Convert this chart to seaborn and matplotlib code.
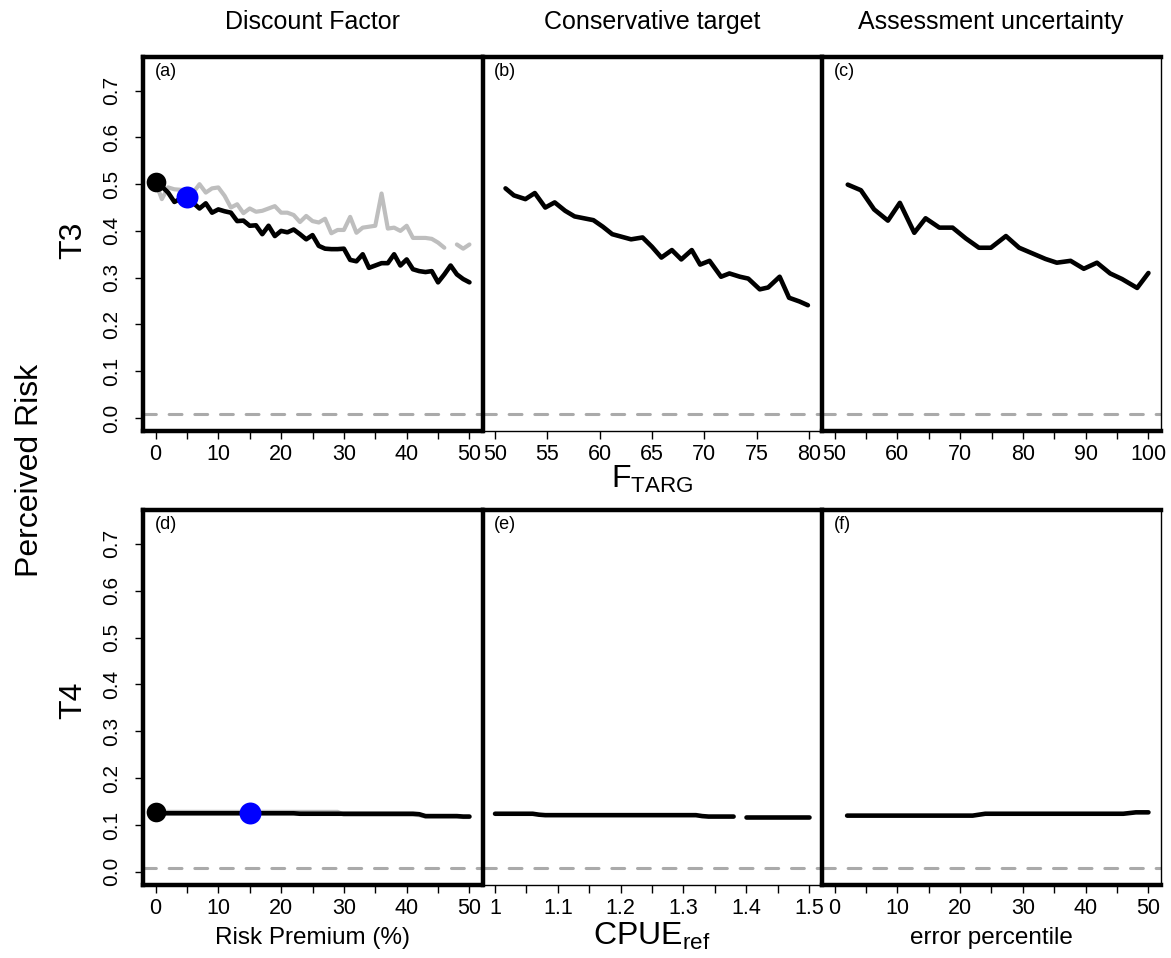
import numpy as np
import pandas as pd
import matplotlib
matplotlib.use("Agg")
import matplotlib.pyplot as plt
import seaborn as sns

sns.set_style("white")
plt.rcParams['font.family'] = ['Liberation Sans', 'DejaVu Sans']
plt.rcParams['mathtext.fontset'] = 'custom'
plt.rcParams['mathtext.rm'] = 'Liberation Sans'
plt.rcParams['mathtext.it'] = 'Liberation Sans'
plt.rcParams['lines.solid_capstyle'] = 'round'
plt.rcParams['lines.solid_joinstyle'] = 'round'
for key in ['text.color', 'axes.labelcolor', 'xtick.color', 'ytick.color', 'axes.edgecolor']:
    plt.rcParams[key] = 'black'

# ---- data -------------------------------------------------------------
risk_premium = np.arange(0, 51)
t3_discount = [0.504, 0.495, 0.482, 0.462, 0.469, 0.473, 0.460, 0.448, 0.459, 0.439,
               0.446, 0.442, 0.439, 0.421, 0.422, 0.411, 0.412, 0.393, 0.411, 0.389,
               0.400, 0.397, 0.403, 0.393, 0.382, 0.391, 0.368, 0.362, 0.361, 0.361,
               0.362, 0.338, 0.335, 0.350, 0.321, 0.326, 0.331, 0.331, 0.350, 0.326,
               0.339, 0.318, 0.314, 0.312, 0.314, 0.290, 0.307, 0.326, 0.307, 0.297,
               0.290]
t3_discount_alt = [0.504, 0.468, 0.493, 0.489, 0.488, 0.486, 0.482, 0.500, 0.482, 0.491,
                   0.493, 0.475, 0.450, 0.457, 0.438, 0.448, 0.441, 0.443, 0.448, 0.453,
                   0.439, 0.439, 0.434, 0.419, 0.432, 0.421, 0.418, 0.426, 0.395, 0.402,
                   0.402, 0.430, 0.396, 0.407, 0.409, 0.411, 0.480, 0.405, 0.407, 0.400,
                   0.411, 0.385, 0.385, 0.385, 0.383, 0.375, 0.364, np.nan, 0.371, 0.362,
                   0.371]
t4_discount = [0.125, 0.125, 0.125, 0.125, 0.125, 0.125, 0.125, 0.125, 0.125, 0.125,
               0.125, 0.125, 0.125, 0.125, 0.125, 0.125, 0.125, 0.125, 0.125, 0.125,
               0.125, 0.125, 0.125, 0.124, 0.124, 0.124, 0.124, 0.124, 0.124, 0.124,
               0.124, 0.124, 0.124, 0.124, 0.124, 0.124, 0.124, 0.124, 0.124, 0.124,
               0.124, 0.124, 0.123, 0.119, 0.119, 0.119, 0.119, 0.119, 0.119, 0.118,
               0.118]
t4_discount_alt = [0.128, 0.128, 0.128, 0.128, 0.128, 0.128, 0.128, 0.128, 0.128, 0.128,
                   0.128, 0.128, 0.128, 0.128, 0.128, 0.128, 0.128, 0.128, 0.128, 0.128,
                   0.128, 0.128, 0.128, 0.128, 0.128, 0.128, 0.128, 0.128, 0.128, 0.128,
                   0.122, 0.122, 0.122, 0.122, 0.122, 0.122, 0.122, 0.122, 0.122, 0.122,
                   0.122, 0.122, 0.121, 0.118, 0.118, 0.118, 0.118, 0.118, 0.118, 0.117,
                   0.117]
base_point = (0, 0.504)
t3_chosen = (5, 0.473)
t4_base = (0, 0.128)
t4_chosen = (15, 0.125)

ftarg = [51.0, 51.8, 52.9, 53.8, 54.8, 55.7, 56.7, 57.6, 59.4, 60.3,
         61.2, 63.0, 64.1, 65.0, 65.9, 66.9, 67.8, 68.8, 69.6, 70.5,
         71.6, 72.4, 73.4, 74.2, 75.3, 76.1, 77.2, 78.1, 79.1, 79.9]
t3_ftarg = [0.491, 0.476, 0.468, 0.481, 0.450, 0.461, 0.443, 0.431, 0.423, 0.409,
            0.393, 0.382, 0.386, 0.366, 0.343, 0.359, 0.339, 0.359, 0.328, 0.336,
            0.302, 0.309, 0.302, 0.298, 0.275, 0.279, 0.302, 0.257, 0.249, 0.241]

cpue_ref = [1.00, 1.01, 1.02, 1.03, 1.04, 1.05, 1.06, 1.07, 1.08, 1.09,
            1.10, 1.11, 1.12, 1.13, 1.14, 1.15, 1.16, 1.17, 1.18, 1.19,
            1.20, 1.21, 1.22, 1.23, 1.24, 1.25, 1.26, 1.27, 1.28, 1.29,
            1.30, 1.31, 1.32, 1.33, 1.34, 1.35, 1.36, 1.37, 1.38, 1.39,
            1.40, 1.41, 1.42, 1.43, 1.44, 1.45, 1.46, 1.47, 1.48, 1.49,
            1.50]
t4_cpue = [0.124, 0.124, 0.124, 0.124, 0.124, 0.124, 0.124, 0.122, 0.121, 0.121,
           0.121, 0.121, 0.121, 0.121, 0.121, 0.121, 0.121, 0.121, 0.121, 0.121,
           0.121, 0.121, 0.121, 0.121, 0.121, 0.121, 0.121, 0.121, 0.121, 0.121,
           0.121, 0.121, 0.121, 0.119, 0.118, 0.118, 0.118, 0.118, 0.118, np.nan,
           0.117, 0.117, 0.117, 0.117, 0.117, 0.117, 0.117, 0.117, 0.117, 0.117,
           0.117]

err_pct_t3 = [52.1, 54.2, 56.3, 58.5, 60.4, 62.7, 64.5, 66.7, 68.8, 70.9,
              73.0, 74.9, 77.3, 79.4, 81.5, 83.6, 85.4, 87.6, 89.7, 91.8,
              93.9, 95.8, 98.2, 100.0]
t3_err = [0.499, 0.487, 0.446, 0.422, 0.460, 0.396, 0.427, 0.407, 0.407, 0.384,
          0.364, 0.364, 0.389, 0.364, 0.352, 0.340, 0.332, 0.336, 0.319, 0.332,
          0.309, 0.297, 0.278, 0.310]

err_pct_t4 = [2, 4, 6, 8, 10, 12, 14, 16, 18, 20, 22, 24, 26,
              28, 30, 32, 34, 36, 38, 40, 42, 44, 46, 48, 50]
t4_err = [0.120, 0.120, 0.120, 0.120, 0.120, 0.120, 0.120, 0.120, 0.120, 0.120,
          0.120, 0.124, 0.124, 0.124, 0.124, 0.124, 0.124, 0.124, 0.124, 0.124,
          0.124, 0.124, 0.124, 0.127, 0.127]

reference_risk = 0.008

col_titles = ["Discount Factor", "Conservative target", "Assessment uncertainty"]
row_labels = ["T3", "T4"]
panel_tags = ["(a)", "(b)", "(c)", "(d)", "(e)", "(f)"]
y_ticks = [0.0, 0.1, 0.2, 0.3, 0.4, 0.5, 0.6, 0.7]
y_ticklabels = ["0.0", "0.1", "0.2", "0.3", "0.4", "0.5", "0.6", "0.7"]

BLACK = "#000000"
GREY = "#BEBEBE"
DASH = "#AAAAAA"
BLUE = "#0000FF"


def draw_line(ax, x, y, color, lw):
    df = pd.DataFrame({"x": x, "y": y})
    df["seg"] = df["y"].isna().cumsum()
    df = df.dropna()
    sns.lineplot(data=df, x="x", y="y", units="seg", estimator=None, sort=False,
                 color=color, linewidth=lw, ax=ax, legend=False)


def draw_point(ax, pt, color, size):
    sns.scatterplot(x=[pt[0]], y=[pt[1]], color=color, s=size, ax=ax,
                    edgecolor=color, linewidth=0, zorder=5, legend=False)


fig = plt.figure(figsize=(11.71, 9.58), dpi=100)
W, H = 1171.0, 958.0
col_left = [143, 482.5, 822]
col_w = 339
rows = [(57, 431), (510, 885)]

axes = {}
for r, (top, bot) in enumerate(rows):
    for c in range(3):
        ax = fig.add_axes([col_left[c] / W, 1 - bot / H, col_w / W, (bot - top) / H])
        axes[(r, c)] = ax

xlims = [(-2, 52), (48.8, 81.2), (48, 102)]
xlims_bot = [(-2, 52), (0.98, 1.52), (-2, 52)]

for (r, c), ax in axes.items():
    ax.set_ylim(-0.028, 0.772)
    ax.set_xlim(*(xlims[c] if r == 0 else xlims_bot[c]))
    ax.axhline(reference_risk, color=DASH, lw=2.2, dashes=(4.2, 4.2),
               dash_capstyle="round", zorder=1)

# top row
draw_line(axes[(0, 0)], risk_premium, t3_discount_alt, GREY, 3.0)
draw_line(axes[(0, 0)], risk_premium, t3_discount, BLACK, 3.3)
draw_point(axes[(0, 0)], base_point, BLACK, 200)
draw_point(axes[(0, 0)], t3_chosen, BLUE, 250)
draw_line(axes[(0, 1)], ftarg, t3_ftarg, BLACK, 3.3)
draw_line(axes[(0, 2)], err_pct_t3, t3_err, BLACK, 3.3)

# bottom row
draw_line(axes[(1, 0)], risk_premium, t4_discount_alt, GREY, 3.0)
draw_line(axes[(1, 0)], risk_premium, t4_discount, BLACK, 3.3)
draw_point(axes[(1, 0)], t4_base, BLACK, 200)
draw_point(axes[(1, 0)], t4_chosen, BLUE, 250)
draw_line(axes[(1, 1)], cpue_ref, t4_cpue, BLACK, 3.3)
draw_line(axes[(1, 2)], err_pct_t4, t4_err, BLACK, 3.3)

# ticks and frames
pct_major = [0, 10, 20, 30, 40, 50]
pct_minor = [5, 15, 25, 35, 45]
for (r, c), ax in axes.items():
    ax.set_xlabel("")
    ax.set_ylabel("")
    if c == 0 or (r == 1 and c == 2):
        ax.set_xticks(pct_major)
        ax.set_xticklabels([str(v) for v in pct_major])
        ax.set_xticks(pct_minor, minor=True)
    elif r == 0 and c == 1:
        ax.set_xticks([50, 55, 60, 65, 70, 75, 80])
        ax.set_xticklabels(["50", "55", "60", "65", "70", "75", "80"])
    elif r == 0 and c == 2:
        ax.set_xticks([50, 60, 70, 80, 90, 100])
        ax.set_xticklabels(["50", "60", "70", "80", "90", "100"])
        ax.set_xticks([55, 65, 75, 85, 95], minor=True)
    else:
        ax.set_xticks([1.0, 1.1, 1.2, 1.3, 1.4, 1.5])
        ax.set_xticklabels(["1", "1.1", "1.2", "1.3", "1.4", "1.5"])
        ax.set_xticks([1.05, 1.15, 1.25, 1.35, 1.45], minor=True)
    ax.tick_params(axis="x", which="both", direction="out", length=5.5, width=1,
                   color=BLACK, bottom=True, labelsize=15.5, pad=4)
    if c == 0:
        ax.set_yticks(y_ticks)
        ax.set_yticklabels(y_ticklabels, rotation=90, va="center")
        ax.tick_params(axis="y", direction="out", length=5.5, width=1, color=BLACK,
                       left=True, labelsize=15, pad=10)
    else:
        ax.set_yticks([])
    for side in ["top", "bottom", "left", "right"]:
        ax.spines[side].set_visible(True)
        ax.spines[side].set_color(BLACK)
        ax.spines[side].set_linewidth(1.0)
    ax.spines["left"].set_linewidth(3.2)
    ax.spines["top"].set_linewidth(3.2)
    if c != 1:
        ax.spines["bottom"].set_linewidth(3.2)
    ax.text(0.035, 0.985, panel_tags[r * 3 + c], transform=ax.transAxes,
            ha="left", va="top", fontsize=13)

# column titles and axis labels
col_centers = [312.5, 652, 991]
for c, t in enumerate(col_titles):
    fig.text(col_centers[c] / W, 1 - 22 / H, t, ha="center", va="center", fontsize=18)

fig.text(652 / W, 1 - 479 / H, r"$\mathrm{F_{TARG}}$", ha="center", va="center", fontsize=23)
fig.text(652 / W, 1 - 936 / H, r"$\mathrm{CPUE_{ref}}$", ha="center", va="center", fontsize=23)
fig.text(312.5 / W, 1 - 938 / H, "Risk Premium (%)", ha="center", va="center", fontsize=17.5)
fig.text(991 / W, 1 - 938 / H, "error percentile", ha="center", va="center", fontsize=17.5)

fig.text(73 / W, 1 - 240 / H, row_labels[0], rotation=90, ha="center", va="center", fontsize=23)
fig.text(73 / W, 1 - 700 / H, row_labels[1], rotation=90, ha="center", va="center", fontsize=23)
fig.text(30 / W, 1 - 470 / H, "Perceived Risk", rotation=90, ha="center", va="center", fontsize=23)

fig.savefig("out.png", dpi=100)
